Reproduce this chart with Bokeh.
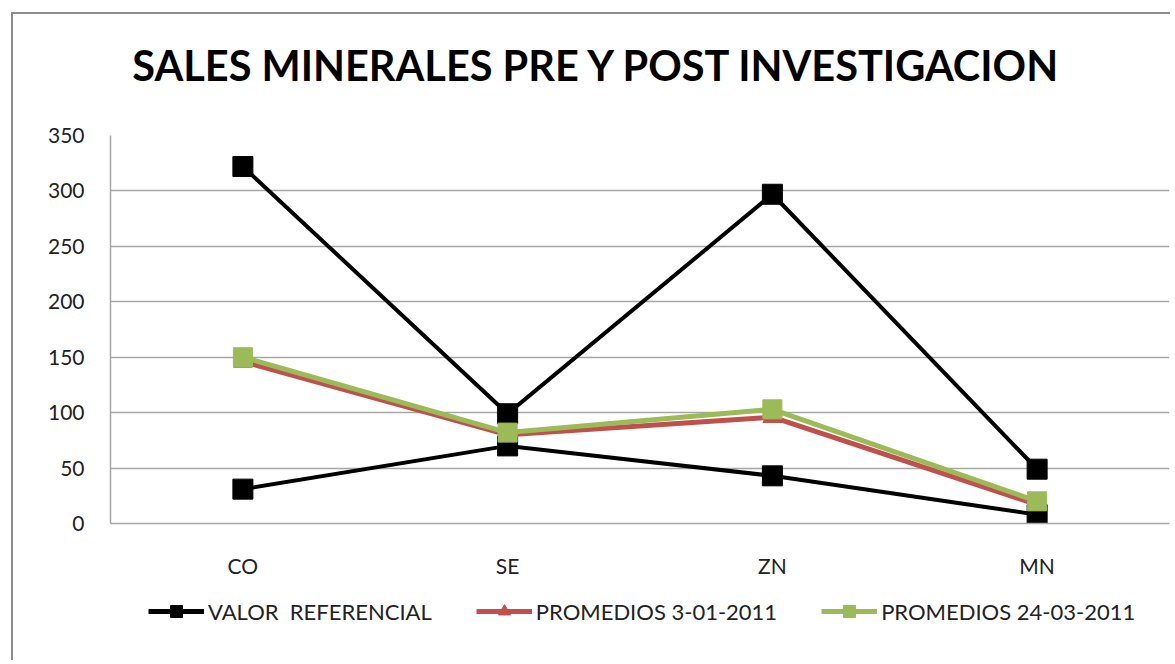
from bokeh.plotting import figure
from bokeh.layouts import column
from bokeh.models import Range1d, FactorRange, Legend, LegendItem, Label, SingleIntervalTicker
from bokeh.embed import file_html
from bokeh.resources import INLINE

categories = ["CO", "SE", "ZN", "MN"]
valor_ref_max = [322, 99, 297, 49]
valor_ref_min = [31, 70, 43, 8]
promedios_1 = [146, 80, 96, 17]
promedios_2 = [150, 82, 103, 20]
series_labels = ["VALOR  REFERENCIAL", "PROMEDIOS 3-01-2011", "PROMEDIOS 24-03-2011"]

title_text = "SALES MINERALES PRE Y POST INVESTIGACION"
FONT = "Lato"
BLACK, RED, GREEN = "#000000", "#C0504D", "#9BBB59"
W = 1157

# title strip
tf = figure(width=W, height=101, output_backend="svg", toolbar_location=None,
            x_axis_type=None, y_axis_type=None, min_border=0,
            x_range=Range1d(0, 1059), y_range=Range1d(0, 101))
tf.outline_line_color = None
tf.add_layout(Label(x=487, y=51, text=title_text, text_align="center", text_baseline="alphabetic",
                    text_font=FONT, text_font_style="bold", text_font_size="41.5px",
                    text_color="#000000"))

# main chart
p = figure(x_range=FactorRange(*categories, range_padding=0), y_range=Range1d(0, 350),
           width=W, height=475, output_backend="svg", toolbar_location=None,
           min_border_left=97, min_border_top=20, min_border_right=1, min_border_bottom=67)
p.outline_line_color = None
p.xgrid.grid_line_color = None
p.ygrid.grid_line_color = "#a6a6a6"
p.ygrid.grid_line_width = 1.5
p.yaxis.ticker = SingleIntervalTicker(interval=50)
for ax in (p.xaxis, p.yaxis):
    ax.axis_line_color = "#a6a6a6"
    ax.axis_line_width = 1.5
    ax.major_tick_line_color = None
    ax.minor_tick_line_color = None
    ax.major_label_text_font = FONT
    ax.major_label_text_font_size = "21px"
    ax.major_label_text_color = "#222222"
p.yaxis.major_label_standoff = 20
p.xaxis.major_label_standoff = 23

p.line(categories, valor_ref_max, line_color=BLACK, line_width=4)
p.scatter(categories, valor_ref_max, marker="square", size=20, color=BLACK)
p.line(categories, valor_ref_min, line_color=BLACK, line_width=4)
p.scatter(categories, valor_ref_min, marker="square", size=20, color=BLACK)
p.line(categories, promedios_1, line_color=RED, line_width=5)
p.scatter(categories, promedios_1, marker="triangle", size=19, color=RED)
p.line(categories, promedios_2, line_color=GREEN, line_width=5)
p.scatter(categories, promedios_2, marker="square", size=19, color=GREEN)

# legend strip
lg = figure(width=W, height=70, output_backend="svg", toolbar_location=None,
            x_axis_type=None, y_axis_type=None, min_border=0,
            x_range=Range1d(0, 1), y_range=Range1d(0, 1))
lg.outline_line_color = None
items = []
for lab, col, mk in zip(series_labels, [BLACK, RED, GREEN], ["square", "triangle", "square"]):
    rl = lg.line([-10, -9], [-10, -9], line_color=col, line_width=5)
    rs = lg.scatter([-10], [-10], marker=mk, size=16, color=col)
    items.append(LegendItem(label=lab, renderers=[rl, rs]))
legend = Legend(items=items, orientation="horizontal", location=(38, 34))
legend.label_text_font = FONT
legend.label_text_font_size = "22px"
legend.label_text_color = "#222222"
legend.glyph_width = 56
legend.glyph_height = 30
legend.label_standoff = 4
legend.spacing = 44
legend.border_line_color = None
legend.background_fill_alpha = 0
legend.margin = 0
legend.padding = 0
lg.add_layout(legend, "center")

layout = column(tf, p, lg, spacing=0)
layout.styles = {"border-left": "2px solid #8c8c8c", "border-top": "2px solid #8c8c8c",
                 "margin-left": "11px", "margin-top": "12px"}

open("out.html", "w").write(file_html(layout, INLINE))
